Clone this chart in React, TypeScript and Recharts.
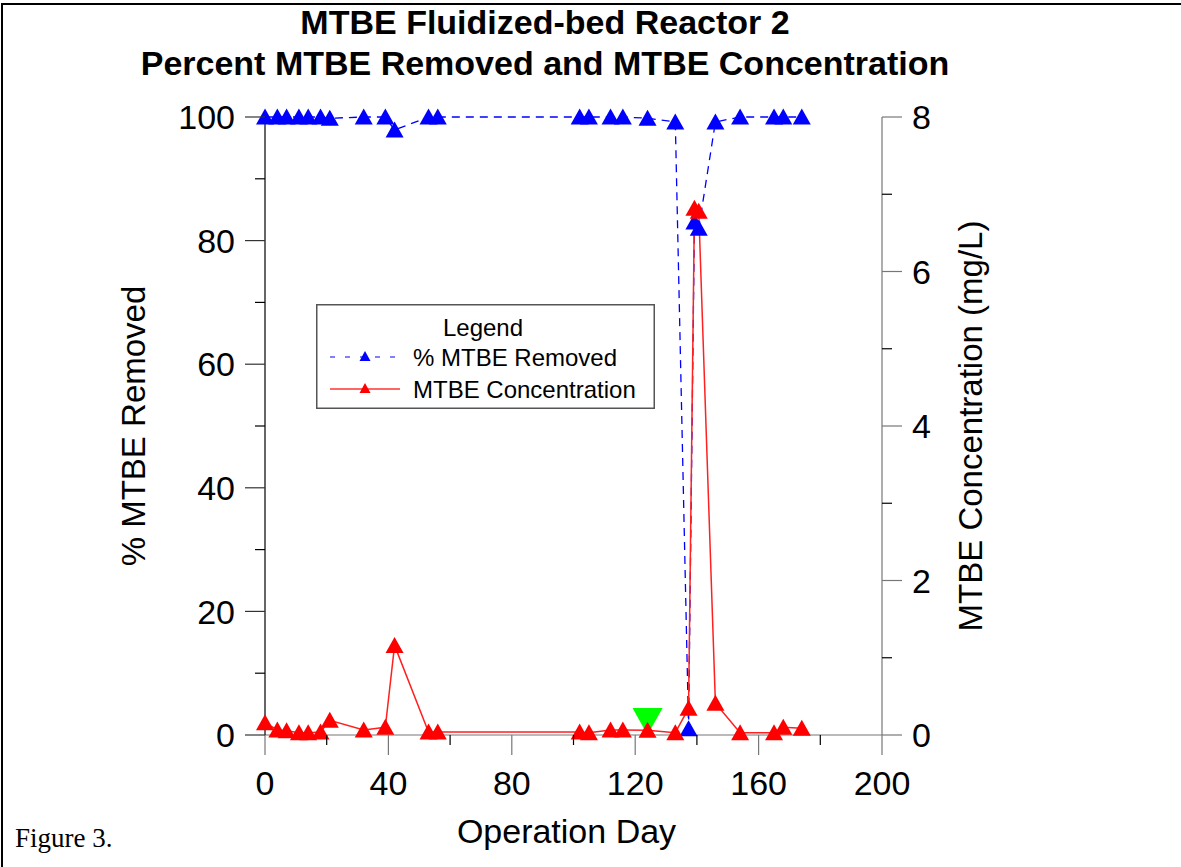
import { ComposedChart, Line, Scatter, XAxis, YAxis, Label } from 'recharts';

// operation day of each sample (shared by both series)
const days = [0, 4, 7, 11, 14, 18, 21, 32, 39, 42, 53, 56, 102, 105, 112, 116, 124, 133, 137.3, 139.2, 140.6, 146, 154, 165, 168, 174];
// % MTBE removed (left axis)
const pctRemoved = [100, 100, 100, 100, 100, 100, 99.8, 100, 100, 97.9, 100, 100, 100, 100, 100, 100, 99.8, 99.2, 1, 83, 82, 99.2, 100, 100, 100, 100];
// MTBE concentration, mg/L (right axis)
const concentration = [0.16, 0.065, 0.055, 0.03, 0.03, 0.04, 0.19, 0.065, 0.1, 1.16, 0.04, 0.04, 0.04, 0.03, 0.065, 0.065, 0.06, 0.03, 0.345, 6.82, 6.78, 0.41, 0.03, 0.03, 0.1, 0.087];
// event marker (green inverted triangle)
const eventDays = [124];
const eventPct = [2.2];

const xTicks = [0, 20, 40, 60, 80, 100, 120, 140, 160, 180, 200];
const leftTicks = [0, 10, 20, 30, 40, 50, 60, 70, 80, 90, 100];
const rightTicks = [0, 1, 2, 3, 4, 5, 6, 7, 8];

const removedData = days.map((day, i) => ({ day, pct: pctRemoved[i] }));
const concData = days.map((day, i) => ({ day, conc: concentration[i] }));
const eventData = eventDays.map((day, i) => ({ day, pct: eventPct[i] }));

const FONT = '"Liberation Sans", Arial, Helvetica, sans-serif';

const triangle = (color: string) => (props: any) => {
  const { cx, cy, index } = props;
  if (cx == null || cy == null) return <g key={`t-${index}`} />;
  return (
    <polygon
      key={`t-${index}`}
      points={`${cx},${cy - 8.5} ${cx - 9},${cy + 7.5} ${cx + 9},${cy + 7.5}`}
      fill={color}
    />
  );
};

const InvTriangle = (props: any) => {
  const { cx, cy } = props;
  return <polygon points={`${cx - 15},${cy - 13.5} ${cx + 15},${cy - 13.5} ${cx},${cy + 13.5}`} fill="#00ff00" />;
};

const XTick = (props: any) => {
  const { x, y, payload } = props;
  const v = payload.value;
  const major = v % 40 === 0;
  return (
    <g>
      <line x1={x} y1={y} x2={x} y2={y + (major ? 20 : 10)} stroke={major ? '#777' : '#000'} strokeWidth={1.2} />
      {major && (
        <text x={x} y={y + 60} textAnchor="middle" fontSize={34} fill="#000" fontFamily={FONT}>
          {v}
        </text>
      )}
    </g>
  );
};

const LeftTick = (props: any) => {
  const { x, y, payload } = props;
  const v = payload.value;
  const major = v % 20 === 0;
  return (
    <g>
      <line x1={x} y1={y} x2={x - (major ? 20 : 10)} y2={y} stroke={major ? '#333' : '#000'} strokeWidth={1.2} />
      {major && (
        <text x={x - 30} y={y} dy="0.36em" textAnchor="end" fontSize={34} fill="#000" fontFamily={FONT}>
          {v}
        </text>
      )}
    </g>
  );
};

const RightTick = (props: any) => {
  const { x, y, payload } = props;
  const v = payload.value;
  const major = v % 2 === 0;
  return (
    <g>
      <line x1={x} y1={y} x2={x + (major ? 20 : 10)} y2={y} stroke={major ? '#777' : '#000'} strokeWidth={1.2} />
      {major && (
        <text x={x + 30} y={y} dy="0.36em" textAnchor="start" fontSize={34} fill="#000" fontFamily={FONT}>
          {v}
        </text>
      )}
    </g>
  );
};

const LegendBox = () => (
  <svg width={339} height={105} style={{ display: 'block' }}>
    <rect x={0.75} y={0.75} width={337.5} height={103.5} fill="#fff" stroke="#555" strokeWidth={1.5} />
    <text x={167} y={23} dy="0.36em" textAnchor="middle" fontSize={24} fontFamily={FONT}>Legend</text>
    <line x1={14} x2={84} y1={53} y2={53} stroke="#0000ff" strokeWidth={1.2} strokeDasharray="5 10" />
    <polygon points="49,47 43.5,57 54.5,57" fill="#0000ff" />
    <text x={97} y={53} dy="0.36em" fontSize={24} fontFamily={FONT}>% MTBE Removed</text>
    <line x1={14} x2={84} y1={85} y2={85} stroke="#ff3333" strokeWidth={1.5} />
    <polygon points="49,79 43.5,89 54.5,89" fill="#ff0000" />
    <text x={97} y={85} dy="0.36em" fontSize={24} fontFamily={FONT}>MTBE Concentration</text>
  </svg>
);

export default function App() {
  return (
    <div style={{ position: 'absolute', left: 0, top: 0, width: 1181, height: 867, background: '#fff', overflow: 'hidden', fontFamily: FONT }}>
      <div style={{ position: 'absolute', left: 1, top: 3, width: 1200, height: 900, borderTop: '2px solid #000', borderLeft: '2px solid #000' }} />
      <div style={{ position: 'absolute', left: 0, top: 2, width: 1090, textAlign: 'center', fontWeight: 'bold', fontSize: 34, lineHeight: '41px' }}>
        MTBE Fluidized-bed Reactor 2
        <br />
        Percent MTBE Removed and MTBE Concentration
      </div>
      <div style={{ position: 'absolute', left: 15, top: 823, fontFamily: '"Liberation Serif", "Times New Roman", serif', fontSize: 27 }}>
        Figure 3.
      </div>
      <ComposedChart width={1181} height={867} margin={{ top: 117, right: 0, bottom: 0, left: 0 }} style={{ position: 'absolute', left: 0, top: 0 }}>
        <XAxis
          type="number"
          dataKey="day"
          domain={[0, 200]}
          ticks={xTicks}
          interval={0}
          height={132}
          tickSize={0}
          tickMargin={0}
          tickLine={false}
          tick={<XTick />}
          axisLine={{ stroke: '#777', strokeWidth: 1.2 }}
          allowDuplicatedCategory={false}
        >
          <Label
            content={(p: any) => {
              const { x, y, width } = p.viewBox;
              return (
                <text x={x + width / 2 - 7} y={y + 108} textAnchor="middle" fontSize={34} fontFamily={FONT}>
                  Operation Day
                </text>
              );
            }}
          />
        </XAxis>
        <YAxis
          yAxisId="left"
          orientation="left"
          type="number"
          domain={[0, 100]}
          ticks={leftTicks}
          interval={0}
          width={265}
          tickSize={0}
          tickMargin={0}
          tickLine={false}
          tick={<LeftTick />}
          axisLine={{ stroke: '#000', strokeWidth: 1.2 }}
        >
          <Label
            content={(p: any) => {
              const { x, y, height } = p.viewBox;
              const cx = x + 133;
              const cy = y + height / 2;
              return (
                <text x={cx} y={cy} dy="0.36em" textAnchor="middle" fontSize={33} fontFamily={FONT} transform={`rotate(-90 ${cx} ${cy})`}>
                  % MTBE Removed
                </text>
              );
            }}
          />
        </YAxis>
        <YAxis
          yAxisId="right"
          orientation="right"
          type="number"
          domain={[0, 8]}
          ticks={rightTicks}
          interval={0}
          width={299}
          tickSize={0}
          tickMargin={0}
          tickLine={false}
          tick={<RightTick />}
          axisLine={{ stroke: '#777', strokeWidth: 1.2 }}
        >
          <Label
            content={(p: any) => {
              const { x, y, height } = p.viewBox;
              const cx = x + 88;
              const cy = y + height / 2;
              return (
                <text x={cx} y={cy} dy="0.36em" textAnchor="middle" fontSize={33} fontFamily={FONT} transform={`rotate(-90 ${cx} ${cy})`}>
                  MTBE Concentration (mg/L)
                </text>
              );
            }}
          />
        </YAxis>
        <Scatter yAxisId="left" data={eventData} dataKey="pct" shape={<InvTriangle />} isAnimationActive={false} legendType="none" />
        <Line
          yAxisId="left"
          data={removedData}
          dataKey="pct"
          stroke="#0000ff"
          strokeWidth={1.3}
          strokeDasharray="8 6"
          dot={triangle('#0000ff')}
          activeDot={false}
          isAnimationActive={false}
        />
        <Line
          yAxisId="right"
          data={concData}
          dataKey="conc"
          stroke="#ff2020"
          strokeWidth={1.5}
          dot={triangle('#ff0000')}
          activeDot={false}
          isAnimationActive={false}
        />
      </ComposedChart>
      <div style={{ position: 'absolute', left: 316, top: 304 }}>
        <LegendBox />
      </div>
    </div>
  );
}
